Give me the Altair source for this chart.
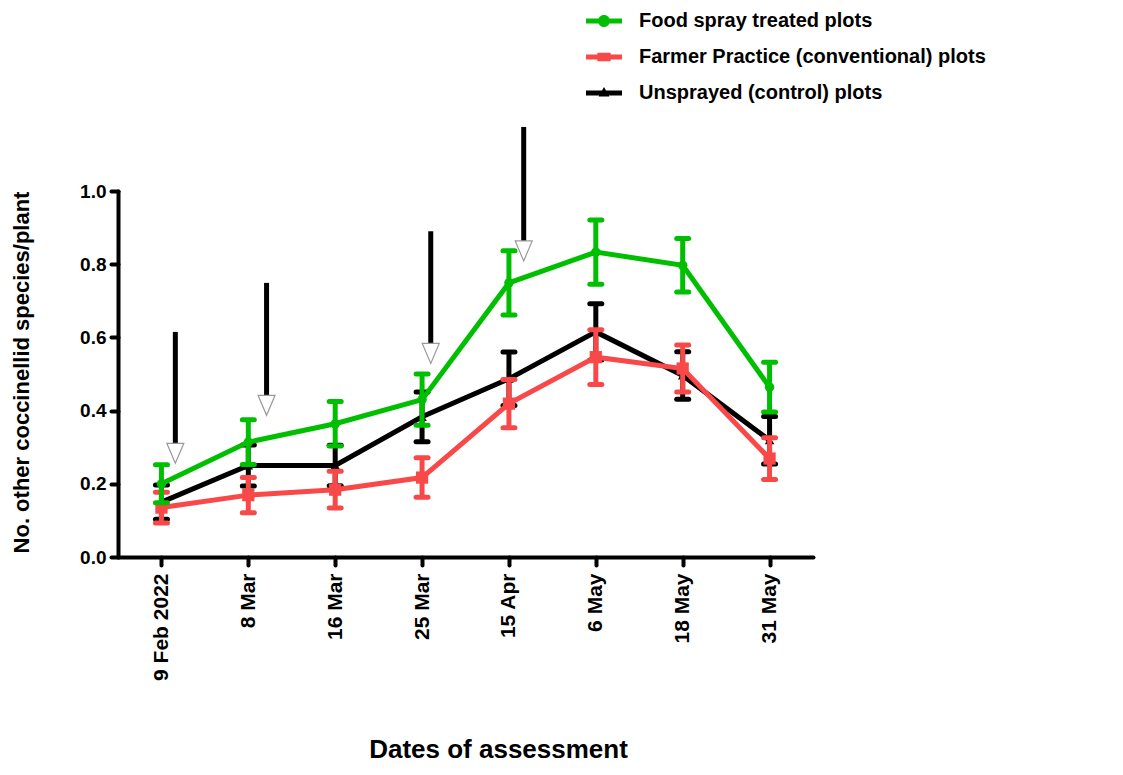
import json
import altair as alt
import pandas as pd

dates = ["9 Feb 2022", "8 Mar", "16 Mar", "25 Mar", "15 Apr", "6 May", "18 May", "31 May"]
series_names = ["Food spray treated plots", "Farmer Practice (conventional) plots", "Unsprayed (control) plots"]
series_colors = ["#00BF00", "#F84848", "#000000"]

food_mean = [0.200, 0.314, 0.364, 0.430, 0.749, 0.833, 0.797, 0.464]
food_err = [0.052, 0.061, 0.061, 0.070, 0.088, 0.088, 0.073, 0.068]
farmer_mean = [0.135, 0.169, 0.184, 0.217, 0.419, 0.546, 0.515, 0.269]
farmer_err = [0.042, 0.048, 0.050, 0.054, 0.066, 0.075, 0.064, 0.057]
control_mean = [0.150, 0.250, 0.250, 0.383, 0.487, 0.615, 0.496, 0.319]
control_err = [0.047, 0.056, 0.055, 0.068, 0.073, 0.077, 0.065, 0.065]

# spray application arrows (position between assessment dates, top and tip values)
spray_pos = [0.16, 1.21, 3.10, 4.17]
spray_top = [0.615, 0.749, 0.890, 1.175]
spray_tip = [0.256, 0.387, 0.529, 0.809]

FONT = "Liberation Sans"

rows = []
for name, means, errs in zip(series_names, [food_mean, farmer_mean, control_mean],
                             [food_err, farmer_err, control_err]):
    for i, (m, e) in enumerate(zip(means, errs)):
        rows.append({"idx": i, "series": name, "mean": m, "lo": m - e, "hi": m + e})
df = pd.DataFrame(rows)
arrows = pd.DataFrame({"pos": spray_pos, "top": spray_top, "tip": spray_tip})

label_expr = json.dumps(dates) + "[datum.value]"
xscale = alt.Scale(domain=[-0.5, 7.5], nice=False, zero=False)
yscale = alt.Scale(domain=[0, 1], nice=False, zero=True)
xaxis = alt.Axis(values=list(range(8)), labelExpr=label_expr, labelAngle=270,
                 labelAlign="right", labelBaseline="middle", labelPadding=8,
                 tickSize=8, tickWidth=4, tickCap="round", domainWidth=4, domainCap="round",
                 domainColor="black", tickColor="black", grid=False,
                 labelFont=FONT, labelFontSize=21, labelFontWeight="bold", labelColor="black",
                 title="Dates of assessment", titleFont=FONT, titleFontSize=26,
                 titleFontWeight="bold", titleColor="black", titleX=380, titleY=200,
                 titleAlign="center", titleBaseline="alphabetic")
yaxis = alt.Axis(values=[0, 0.2, 0.4, 0.6, 0.8, 1.0], format=".1f", labelPadding=5,
                 tickSize=7, tickWidth=4, tickCap="round", domainWidth=4, domainCap="round",
                 domainColor="black", tickColor="black", grid=False,
                 labelFont=FONT, labelFontSize=19, labelFontWeight="bold", labelColor="black",
                 title="No. other coccinellid species/plant", titleFont=FONT, titleFontSize=22,
                 titleFontWeight="bold", titleColor="black", titleX=-97, titleY=181,
                 titleAlign="center", titleBaseline="middle")


def X(field):
    return alt.X(field, type="quantitative", scale=xscale, axis=xaxis)


def Y(field):
    return alt.Y(field, type="quantitative", scale=yscale, axis=yaxis)


shapes_pts = {series_names[0]: ("circle", 90), series_names[1]: ("square", 150),
              series_names[2]: ("triangle-up", 90)}

layers = []
for name, color in list(zip(series_names, series_colors))[::-1]:
    base = alt.Chart(df).transform_filter(alt.datum.series == name)
    err = base.mark_rule(strokeWidth=5, color=color).encode(x=X("idx"), y=Y("lo"), y2="hi:Q")
    cap_hi = base.mark_rule(strokeWidth=5, strokeCap="round", color=color,
                            xOffset=-6, x2Offset=6).encode(x=X("idx"), x2="idx:Q", y=Y("hi"))
    cap_lo = base.mark_rule(strokeWidth=5, strokeCap="round", color=color,
                            xOffset=-6, x2Offset=6).encode(x=X("idx"), x2="idx:Q", y=Y("lo"))
    line = base.mark_line(strokeWidth=5, color=color).encode(x=X("idx"), y=Y("mean"))
    shp, sz = shapes_pts[name]
    pts = base.mark_point(filled=True, shape=shp, size=sz, color=color, opacity=1).encode(
        x=X("idx"), y=Y("mean"))
    layers += [err, cap_hi, cap_lo, line, pts]

arrow_line = alt.Chart(arrows).mark_rule(strokeWidth=5, color="black", y2Offset=-20).encode(
    x=X("pos"), y=Y("top"), y2="tip:Q")
arrow_head = alt.Chart(arrows).mark_point(shape="M-0.85,-1H0.85L0,1Z", size=400, filled=True,
                                          fill="white", stroke="#9a9a9a", strokeWidth=1.2,
                                          opacity=1, yOffset=-10).encode(x=X("pos"), y=Y("tip"))

legend_paths = [
    "M-1.5,-0.21H1.5V0.21H-1.5Z M-0.5,0A0.5,0.5 0 1,1 0.5,0A0.5,0.5 0 1,1 -0.5,0Z",
    "M-1.5,-0.21H1.5V0.21H-1.5Z M-0.55,-0.35H0.55V0.35H-0.55Z",
    "M-1.5,-0.21H1.5V0.21H-1.5Z M0,-0.5L0.45,0.3H-0.45Z",
]
leg = alt.Legend(title=None, orient="none", legendX=474, legendY=-182, symbolSize=576,
                 symbolOpacity=1, symbolStrokeWidth=0, labelFont=FONT, labelFontSize=20,
                 labelFontWeight="bold", labelColor="black", labelOffset=23, rowPadding=14,
                 padding=0, labelLimit=800)
legend_layer = alt.Chart(df).mark_point(filled=True, opacity=0, size=1).encode(
    x=X("idx"), y=Y("mean"),
    color=alt.Color("series:N", scale=alt.Scale(domain=series_names, range=series_colors), legend=leg),
    shape=alt.Shape("series:N", scale=alt.Scale(domain=series_names, range=legend_paths), legend=leg),
)

chart = alt.layer(*layers, arrow_line, arrow_head, legend_layer).properties(
    width=695, height=366, autosize="none",
    padding={"left": 110, "top": 183, "right": 300, "bottom": 210},
).configure(background="white", view=alt.ViewConfig(stroke=None))

chart.save("out.html", embed_options={"renderer": "svg", "actions": False})
